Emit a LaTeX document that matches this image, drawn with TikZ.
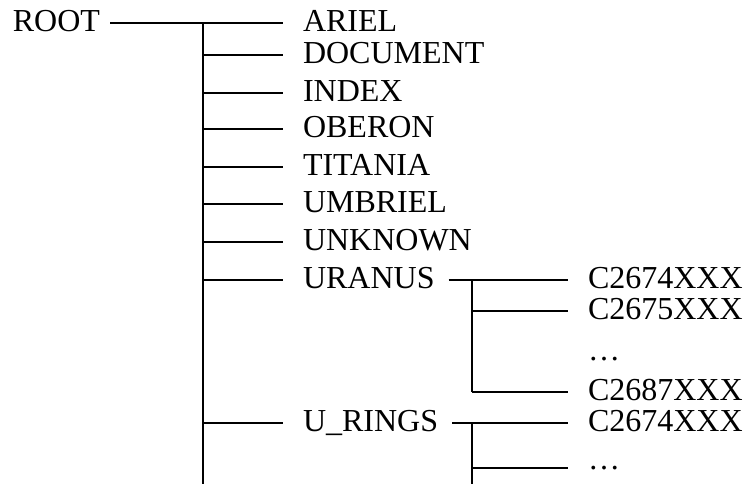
\documentclass[tikz,border=0pt]{standalone}
\usepackage{fontspec}
\setmainfont{Liberation Serif}
\begin{document}
\begin{tikzpicture}[x=1pt,y=-1pt,
  lbl/.style={inner sep=0pt, outer xsep=20pt, text height=17pt, text depth=0pt, anchor=west,
    font=\fontsize{32}{36}\selectfont},
  dots/.style={lbl, text height=3pt},
  link/.style={line width=1.7pt}]
\useasboundingbox (0,0) rectangle (744,484);
% root
\node[lbl, anchor=east, outer xsep=10pt] (root) at (110,23) {ROOT};
% first level
\node[lbl] (ariel)   at (283,23)  {ARIEL};
\node[lbl] (doc)     at (283,55)  {DOCUMENT};
\node[lbl] (index)   at (283,93)  {INDEX};
\node[lbl] (oberon)  at (283,129) {OBERON};
\node[lbl] (titania) at (283,167) {TITANIA};
\node[lbl] (umbriel) at (283,204) {UMBRIEL};
\node[lbl] (unknown) at (283,242) {UNKNOWN};
\node[lbl] (uranus)  at (283,280) {URANUS};
\node[lbl] (urings)  at (283,423) {U\_RINGS};
% second level
\node[lbl]  (c1) at (568,280) {C2674XXX};
\node[lbl]  (c2) at (568,311) {C2675XXX};
\node[dots] (c3) at (568,359) {…};
\node[lbl]  (c4) at (568,392) {C2687XXX};
\node[lbl]  (r1) at (568,423) {C2674XXX};
\node[dots] (r2) at (568,468) {…};
% trunks
\coordinate (t0) at (203,23);
\coordinate (tend) at (203,484);
\coordinate (s0) at (472,280);
\coordinate (send) at (472,392);
\coordinate (q0) at (472,423);
\coordinate (qend) at (472,484);
\draw[link] (t0) -- (tend);
\draw[link] (s0) -- (send);
\draw[link] (q0) -- (qend);
% connectors
\draw[link] (root.east) -- (ariel.west);
\foreach \n in {doc,index,oberon,titania,umbriel,unknown,uranus,urings}
  \draw[link] (\n.west -| t0) -- (\n.west);
\draw[link] ([xshift=-6pt]uranus.east) -- (c1.west);
\draw[link] (c2.west -| s0) -- (c2.west);
\draw[link] (c4.west -| s0) -- (c4.west);
\draw[link] ([xshift=-6pt]urings.east) -- (r1.west);
\draw[link] (r2.west -| q0) -- (r2.west);
\end{tikzpicture}
\end{document}
